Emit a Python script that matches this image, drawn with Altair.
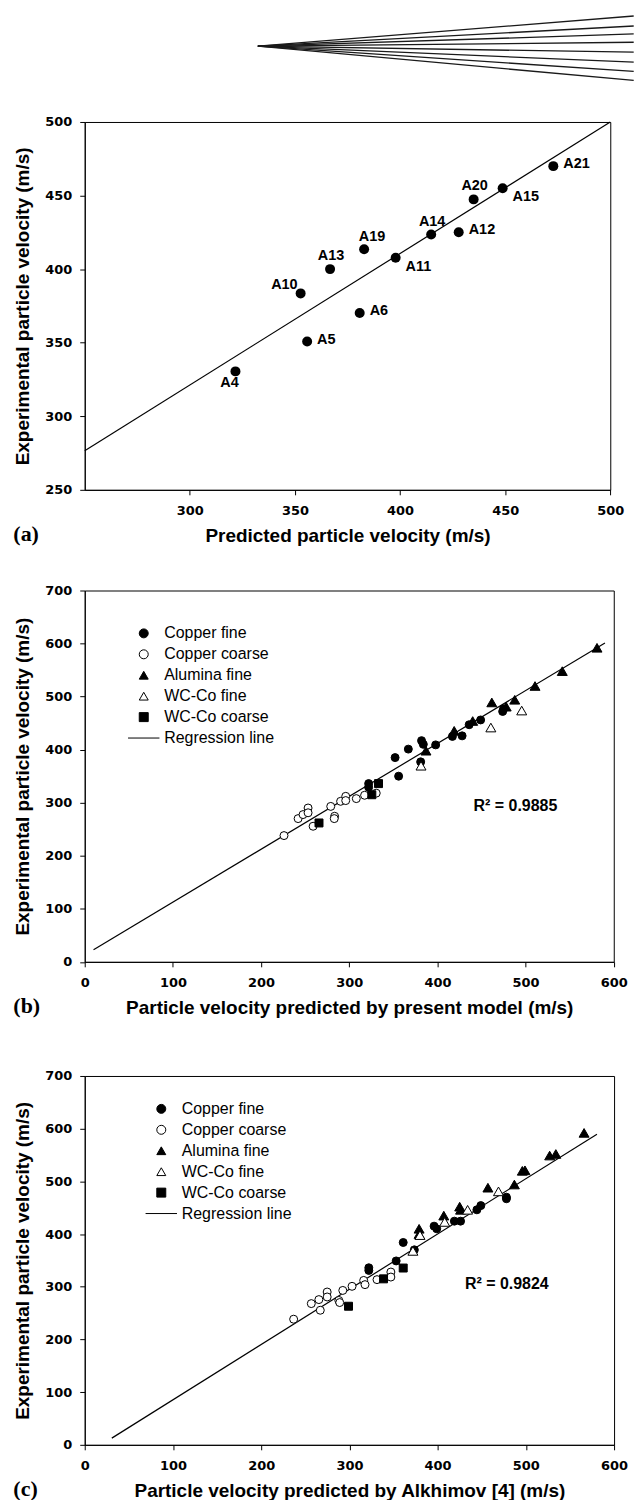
import altair as alt
import pandas as pd

FONT = "Liberation Sans"
TICKFONT = "DejaVu Sans"
SERIF = "Liberation Serif"

# ---------------- decorative fan at the top (page pixel coordinates) ----------------
fan_origin_x = 258
fan_origin_y = 43
fan_end_x = 635
fan_end_y = [12.7, 22.7, 30.7, 39, 49, 59, 68.3, 77.3]

# ---------------- panel (a) ----------------
a_labels = ["A4", "A5", "A10", "A13", "A6", "A19", "A11", "A14", "A12", "A20", "A15", "A21"]
a_pred = [321.7, 355.8, 352.7, 366.7, 380.8, 382.9, 397.9, 414.8, 427.9, 435.0, 448.8, 472.9]
a_exp = [330.5, 350.8, 383.5, 400.0, 370.2, 413.5, 407.7, 423.5, 425.0, 447.4, 455.0, 470.0]
a_place = ["below", "right", "upleft", "above", "right", "aboveright", "belowright",
           "above", "right", "above", "belowright", "right"]
a_line_x = [250, 500]
a_line_y = [276.5, 500]

# ---------------- panel (b) ----------------
b_cu_fine_x = [322, 322, 352, 356, 367, 381, 382, 384, 398, 417, 428, 436, 449, 474, 475]
b_cu_fine_y = [336, 329, 385, 350, 401, 377, 417, 410, 409, 425, 426, 447, 456, 472, 477]
b_cu_coarse_x = [226, 242, 247.6, 253.3, 253.3, 259, 279, 283.4, 283, 290.2, 296, 296, 308, 317.4, 330.6]
b_cu_coarse_y = [238, 270, 277.6, 290, 281, 255.6, 293, 274.4, 270, 302.6, 312, 304, 307.7, 314, 318]
b_al_fine_x = [387, 419, 440, 461.7, 478, 487.7, 510.7, 541.6, 581]
b_al_fine_y = [398, 435.5, 454, 489, 481, 494, 520, 548, 592]
b_wc_fine_x = [381.4, 460.6, 495.6]
b_wc_fine_y = [369.7, 441.7, 473.7]
b_wc_coarse_x = [265.7, 325.6, 333.2]
b_wc_coarse_y = [261.8, 315, 336]
b_reg_x = [10, 590]
b_reg_y = [23, 601]
b_r2 = "R² = 0.9885"
b_r2_pos = (441, 294)

# ---------------- panel (c) ----------------
c_cu_fine_x = [322, 322, 353, 361, 373.6, 396, 399, 419, 426, 444.5, 449, 478, 478]
c_cu_fine_y = [336, 331, 349, 384, 370, 415, 410, 424.5, 424.5, 446, 454, 470, 467]
c_cu_coarse_x = [236.8, 256.8, 265.4, 274.8, 274.8, 267, 288, 289, 292.5, 303, 316.2, 317.7, 331.3, 347, 347]
c_cu_coarse_y = [238.4, 268, 275.6, 290, 280.6, 255.4, 274, 270, 293, 300.8, 312, 304, 313.5, 327.9, 318.4]
c_al_fine_x = [379, 379, 407, 425, 426, 457, 487, 496, 499, 527, 534, 566]
c_al_fine_y = [410, 400, 435, 452, 446, 488, 494, 520, 521, 549, 552, 592]
c_wc_fine_x = [372, 380, 408, 434, 469]
c_wc_fine_y = [368, 398, 423, 446, 481]
c_wc_coarse_x = [299, 338.7, 361]
c_wc_coarse_y = [263, 315, 335.5]
c_reg_x = [30.7, 580.6]
c_reg_y = [12.7, 589.6]
c_r2 = "R² = 0.9824"
c_r2_pos = (431, 304.6)

SERIES = ["Copper fine", "Copper coarse", "Alumina fine", "WC-Co fine", "WC-Co coarse", "Regression line"]
SHAPES = ["circle", "circle", "triangle-up", "triangle-up", "square", "M-3.5,0H3.5"]
FILLS = ["black", "white", "black", "white", "black", "black"]
STROKES = ["black"] * 6

PLOT_LEFT = 84.3


def x_axis(values, title, width):
    return alt.Axis(values=values, title=title, titleX=width / 2, titleY=46,
                    titleBaseline="middle", titleAlign="center",
                    titleFont=FONT, titleFontSize=19, titleFontWeight="bold", titleColor="black",
                    labelFont=TICKFONT, labelFontSize=13, labelFontWeight="bold", labelColor="black",
                    labelPadding=10, labelFlush=False, labelOverlap=False,
                    tickSize=5, tickColor="black", tickWidth=1,
                    domainColor="black", domainWidth=1, grid=False)


def y_axis(values, title, height):
    return alt.Axis(values=values, title=title, titleX=-62, titleY=height / 2,
                    titleBaseline="middle", titleAlign="center", titleAngle=270,
                    titleFont=FONT, titleFontSize=19, titleFontWeight="bold", titleColor="black",
                    labelFont=TICKFONT, labelFontSize=13, labelFontWeight="bold", labelColor="black",
                    labelPadding=8, labelFlush=False, labelOverlap=False,
                    tickSize=5, tickColor="black", tickWidth=1,
                    domainColor="black", domainWidth=1, grid=False)


def panel_label(text, height):
    return alt.Chart(pd.DataFrame({"t": [text]})).mark_text(
        align="left", baseline="middle", font=SERIF, fontSize=22, fontWeight="bold", color="black"
    ).encode(x=alt.value(12.7 - PLOT_LEFT), y=alt.value(height + 44), text="t:N")


# ---------------- fan chart ----------------
FAN_W, FAN_H = 635.3 - PLOT_LEFT, 119
fan_df = pd.DataFrame({
    "x0": [fan_origin_x] * len(fan_end_y),
    "y0": [fan_origin_y] * len(fan_end_y),
    "x1": [fan_end_x] * len(fan_end_y),
    "y1": fan_end_y,
})
fx = alt.Scale(domain=[PLOT_LEFT, 635.3], nice=False, zero=False)
fy = alt.Scale(domain=[0, FAN_H], nice=False, zero=False, reverse=True)
fan_lines = alt.Chart(fan_df).mark_rule(color="#1a1a1a", strokeWidth=1.3).encode(
    x=alt.X("x0:Q", scale=fx, axis=None), y=alt.Y("y0:Q", scale=fy, axis=None),
    x2="x1:Q", y2="y1:Q")
anchor = alt.Chart(pd.DataFrame({"x": [0], "y": [0]})).mark_point(opacity=0, size=1).encode(
    x=alt.X("x:Q", scale=fx, axis=None), y=alt.Y("y:Q", scale=fy, axis=None))
fan = alt.layer(anchor, fan_lines).properties(width=FAN_W, height=FAN_H)

# ---------------- panel (a) chart ----------------
A_W, A_H = 527.2, 369
df_a = pd.DataFrame({"label": a_labels, "pred": a_pred, "exp": a_exp, "place": a_place})
ax = alt.Scale(domain=[250, 500], nice=False, zero=False)
ay = alt.Scale(domain=[250, 500], nice=False, zero=False)
enc_a = dict(
    x=alt.X("pred:Q", scale=ax, axis=x_axis([300, 350, 400, 450, 500], "Predicted particle velocity (m/s)", A_W)),
    y=alt.Y("exp:Q", scale=ay, axis=y_axis([250, 300, 350, 400, 450, 500], "Experimental particle velocity (m/s)", A_H)),
)
line_a = alt.Chart(pd.DataFrame({"pred": a_line_x, "exp": a_line_y})).mark_line(
    color="black", strokeWidth=1.2).encode(
    x=alt.X("pred:Q", scale=ax), y=alt.Y("exp:Q", scale=ay))
pts_a = alt.Chart(df_a).mark_point(filled=True, color="black", size=100, opacity=1).encode(**enc_a)

placements = {
    "right": dict(align="left", dx=10, dy=-2),
    "above": dict(align="center", dx=1, dy=-13),
    "aboveright": dict(align="center", dx=8, dy=-12),
    "belowright": dict(align="left", dx=10, dy=9),
    "below": dict(align="center", dx=-6, dy=12),
    "upleft": dict(align="right", dx=-3, dy=-8),
}
label_layers = []
for key, style in placements.items():
    label_layers.append(
        alt.Chart(df_a).transform_filter(alt.datum.place == key).mark_text(
            baseline="middle", font=FONT, fontSize=14.5, fontWeight="bold", color="black", **style
        ).encode(x=alt.X("pred:Q", scale=ax), y=alt.Y("exp:Q", scale=ay), text="label:N")
    )

panel_a = alt.layer(line_a, pts_a, *label_layers, panel_label("(a)", A_H)).properties(
    width=A_W, height=A_H, view=alt.ViewBackground(stroke="black", strokeWidth=1))


# ---------------- panels (b) and (c) ----------------
def make_panel(groups, reg_x, reg_y, r2_text, r2_pos, xtitle, label, W, H, leg_x, leg_y):
    rows = []
    for name, xs, ys in groups:
        for xv, yv in zip(xs, ys):
            rows.append({"series": name, "pred": xv, "exp": yv})
    df = pd.DataFrame(rows)
    sx = alt.Scale(domain=[0, 600], nice=False, zero=False)
    sy = alt.Scale(domain=[0, 700], nice=False, zero=False)
    leg = alt.Legend(orient="none", legendX=leg_x, legendY=leg_y, title=None,
                     labelFont=FONT, labelFontSize=16, labelColor="black", labelOffset=12.5,
                     labelLimit=0, rowPadding=5, padding=0, symbolSize=81,
                     symbolStrokeWidth=1, symbolOpacity=1)
    points = alt.Chart(df).mark_point(filled=False, strokeWidth=1, opacity=1, fillOpacity=1).encode(
        x=alt.X("pred:Q", scale=sx, axis=x_axis([0, 100, 200, 300, 400, 500, 600], xtitle, W)),
        y=alt.Y("exp:Q", scale=sy, axis=y_axis([0, 100, 200, 300, 400, 500, 600, 700],
                                               "Experimental particle velocity (m/s)", H)),
        shape=alt.Shape("series:N", scale=alt.Scale(domain=SERIES, range=SHAPES), legend=leg),
        fill=alt.Fill("series:N", scale=alt.Scale(domain=SERIES, range=FILLS), legend=leg),
        stroke=alt.Stroke("series:N", scale=alt.Scale(domain=SERIES, range=STROKES), legend=leg),
        size=alt.condition(alt.FieldOneOfPredicate(field="series", oneOf=["Alumina fine", "WC-Co fine"]),
                           alt.value(100), alt.value(64)),
    )
    reg = alt.Chart(pd.DataFrame({"pred": reg_x, "exp": reg_y})).mark_line(
        color="black", strokeWidth=1.2).encode(
        x=alt.X("pred:Q", scale=sx), y=alt.Y("exp:Q", scale=sy))
    r2 = alt.Chart(pd.DataFrame({"pred": [r2_pos[0]], "exp": [r2_pos[1]], "t": [r2_text]})).mark_text(
        align="left", baseline="middle", font=FONT, fontSize=16, fontWeight="bold", color="black"
    ).encode(x=alt.X("pred:Q", scale=sx), y=alt.Y("exp:Q", scale=sy), text="t:N")
    return alt.layer(reg, points, r2, panel_label(label, H)).properties(
        width=W, height=H, view=alt.ViewBackground(stroke="black", strokeWidth=1))


B_W, B_H = 530.7, 372.5
C_W, C_H = 531.0, 370.0
panel_b = make_panel(
    [("Copper fine", b_cu_fine_x, b_cu_fine_y), ("Copper coarse", b_cu_coarse_x, b_cu_coarse_y),
     ("Alumina fine", b_al_fine_x, b_al_fine_y), ("WC-Co fine", b_wc_fine_x, b_wc_fine_y),
     ("WC-Co coarse", b_wc_coarse_x, b_wc_coarse_y)],
    b_reg_x, b_reg_y, b_r2, b_r2_pos, "Particle velocity predicted by present model (m/s)", "(b)",
    B_W, B_H, 51.2, 35)
panel_c = make_panel(
    [("Copper fine", c_cu_fine_x, c_cu_fine_y), ("Copper coarse", c_cu_coarse_x, c_cu_coarse_y),
     ("Alumina fine", c_al_fine_x, c_al_fine_y), ("WC-Co fine", c_wc_fine_x, c_wc_fine_y),
     ("WC-Co coarse", c_wc_coarse_x, c_wc_coarse_y)],
    c_reg_x, c_reg_y, c_r2, c_r2_pos, "Particle velocity predicted by Alkhimov [4] (m/s)", "(c)",
    C_W, C_H, 68.8, 25)


def spacer(h):
    return alt.Chart(pd.DataFrame({"v": [0]})).mark_point(opacity=0, size=1).encode(
        x=alt.value(0), y=alt.value(0)).properties(width=1, height=h)


chart = alt.vconcat(
    fan, panel_a, spacer(100.5), panel_b, spacer(114), panel_c,
    spacing=0, bounds="flush"
).resolve_scale(
    shape="independent", fill="independent", stroke="independent"
).resolve_legend(
    shape="independent", fill="independent", stroke="independent"
).properties(
    padding={"left": 0, "top": 0, "right": 0, "bottom": 0},
    background="white",
).configure_view(stroke=None)

chart.save("out.html", embed_options={"renderer": "svg", "actions": False})
